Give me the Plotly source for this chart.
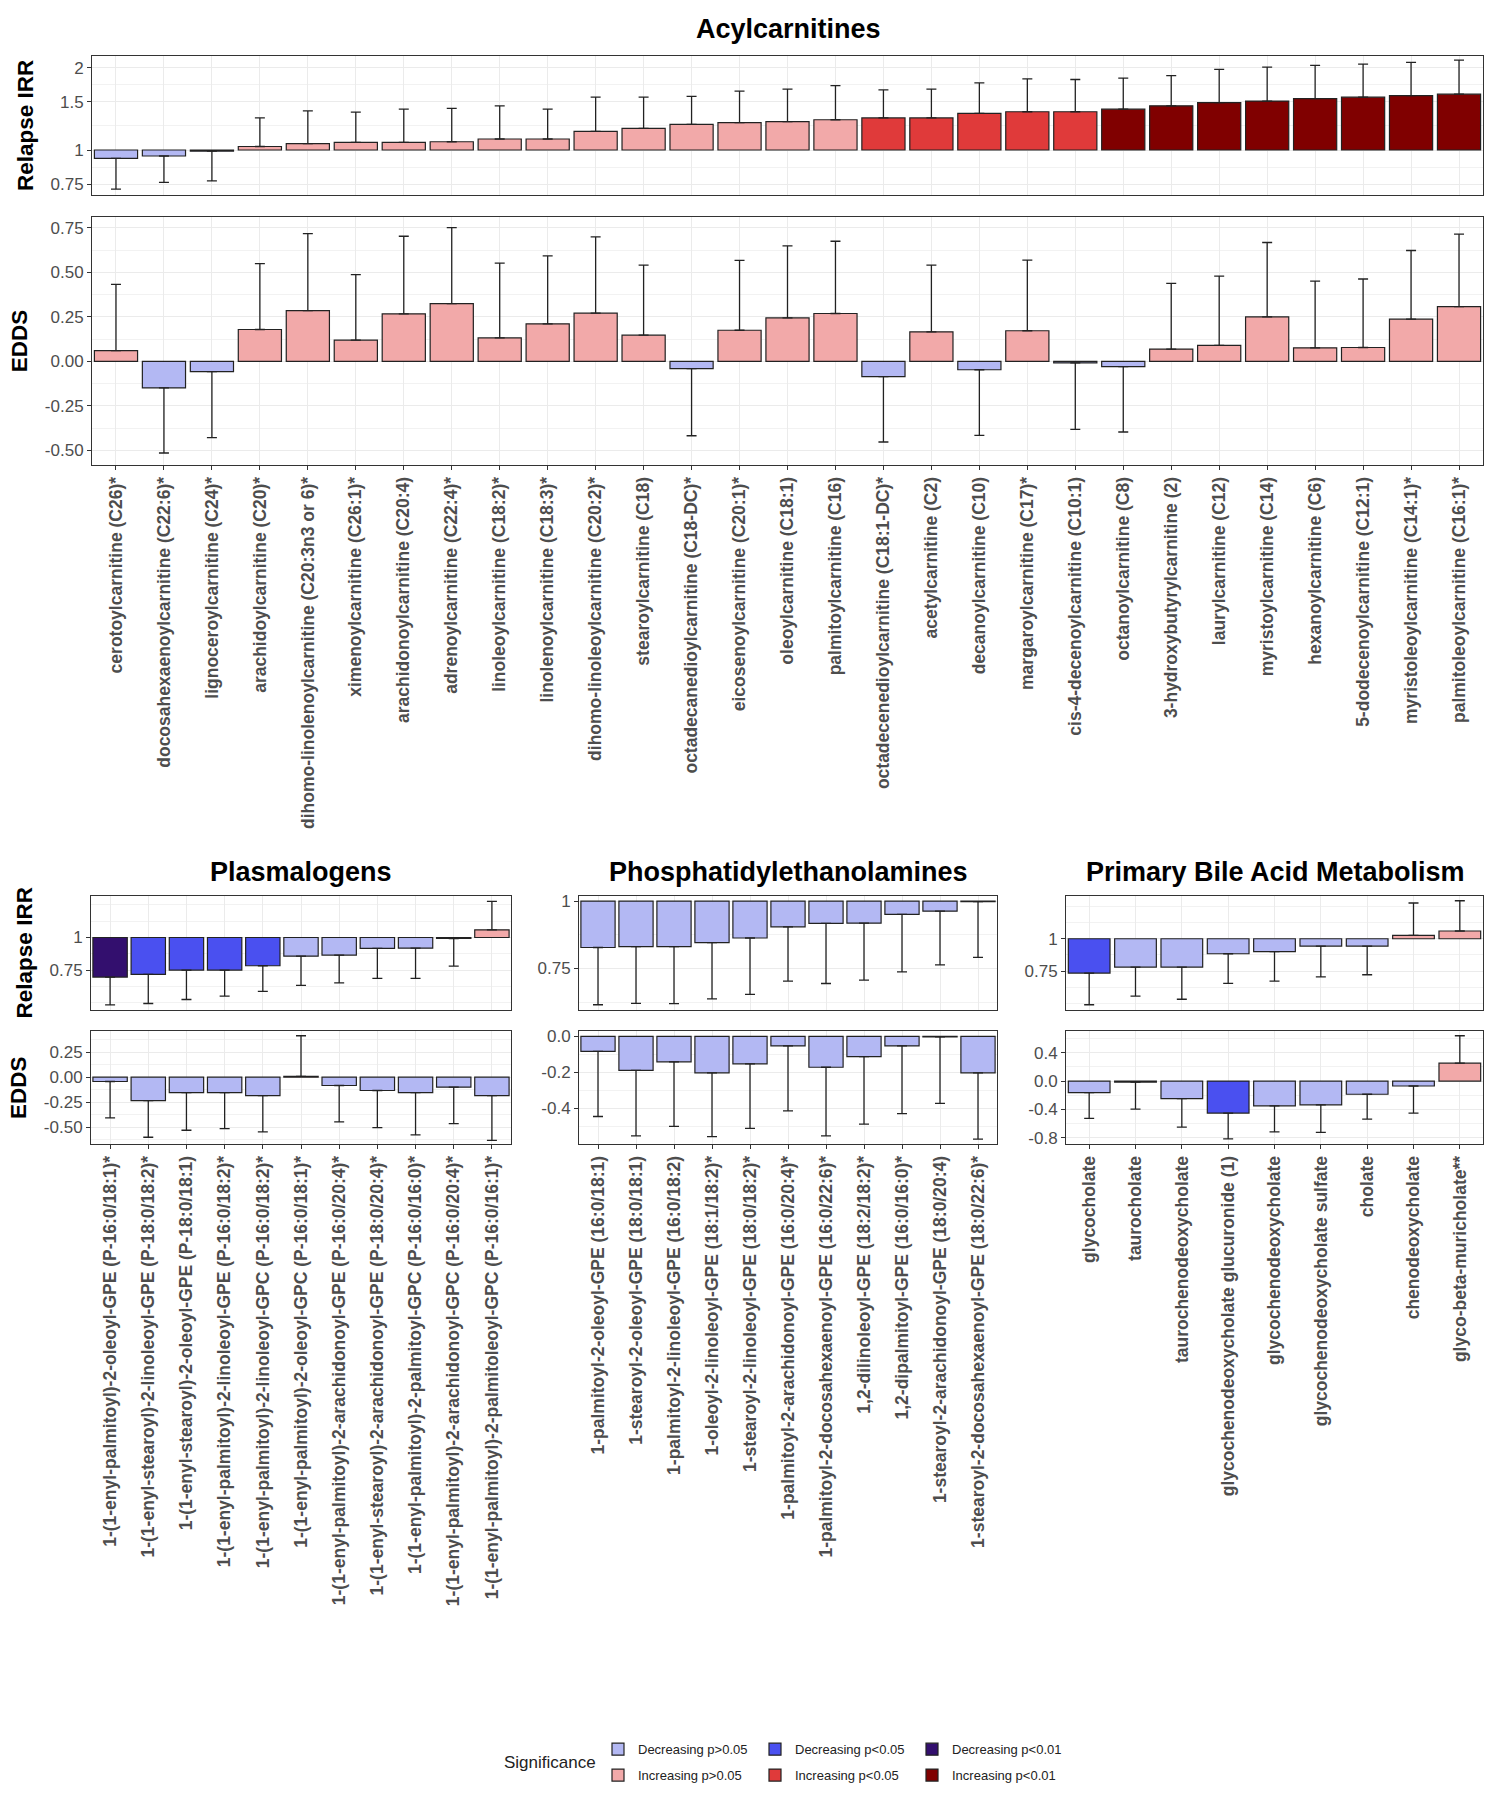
import numpy as np
import plotly.graph_objects as go

FONT = "Liberation Sans, Arial, sans-serif"
W, H = 1486, 1800

# ---------------- data ----------------
CAT_ORDER = ["Dn", "Up", "Dn05", "Up05", "Dn01", "Up01"]
CAT_NAMES = {"Dn": "Decreasing p>0.05", "Up": "Increasing p>0.05",
             "Dn05": "Decreasing p<0.05", "Up05": "Increasing p<0.05",
             "Dn01": "Decreasing p<0.01", "Up01": "Increasing p<0.01"}
CAT_COLORS = {"Dn": "#B3B8F3", "Up": "#F2A9A9",
              "Dn05": "#4A50F0", "Up05": "#E03A3A",
              "Dn01": "#330F6E", "Up01": "#800000"}

acyl_labels = [
    "cerotoylcarnitine (C26)*", "docosahexaenoylcarnitine (C22:6)*", "lignoceroylcarnitine (C24)*",
    "arachidoylcarnitine (C20)*", "dihomo-linolenoylcarnitine (C20:3n3 or 6)*", "ximenoylcarnitine (C26:1)*",
    "arachidonoylcarnitine (C20:4)", "adrenoylcarnitine (C22:4)*", "linoleoylcarnitine (C18:2)*",
    "linolenoylcarnitine (C18:3)*", "dihomo-linoleoylcarnitine (C20:2)*", "stearoylcarnitine (C18)",
    "octadecanedioylcarnitine (C18-DC)*", "eicosenoylcarnitine (C20:1)*", "oleoylcarnitine (C18:1)",
    "palmitoylcarnitine (C16)", "octadecenedioylcarnitine (C18:1-DC)*", "acetylcarnitine (C2)",
    "decanoylcarnitine (C10)", "margaroylcarnitine (C17)*", "cis-4-decenoylcarnitine (C10:1)",
    "octanoylcarnitine (C8)", "3-hydroxybutyrylcarnitine (2)", "laurylcarnitine (C12)",
    "myristoylcarnitine (C14)", "hexanoylcarnitine (C6)", "5-dodecenoylcarnitine (C12:1)",
    "myristoleoylcarnitine (C14:1)*", "palmitoleoylcarnitine (C16:1)*"]
acyl_irr = [0.932, 0.951, 0.99, 1.03, 1.055, 1.066, 1.066, 1.072, 1.097, 1.097, 1.17, 1.20, 1.24, 1.26,
            1.27, 1.29, 1.31, 1.31, 1.36, 1.38, 1.38, 1.41, 1.45, 1.49, 1.51, 1.54, 1.56, 1.58, 1.60]
acyl_irr_ci = [0.719, 0.762, 0.771, 1.31, 1.39, 1.375, 1.41, 1.42, 1.45, 1.41, 1.56, 1.56, 1.57, 1.64,
               1.67, 1.72, 1.66, 1.67, 1.76, 1.82, 1.81, 1.83, 1.87, 1.97, 2.01, 2.04, 2.06, 2.09, 2.13]
acyl_irr_sig = ["Dn"] * 3 + ["Up"] * 13 + ["Up05"] * 5 + ["Up01"] * 8
acyl_edds = [0.060, -0.149, -0.058, 0.179, 0.285, 0.119, 0.267, 0.325, 0.132, 0.211, 0.271, 0.147, -0.041,
             0.175, 0.244, 0.269, -0.086, 0.166, -0.047, 0.172, -0.009, -0.030, 0.069, 0.090, 0.250,
             0.076, 0.078, 0.237, 0.308]
acyl_edds_ci = [0.433, -0.515, -0.429, 0.549, 0.718, 0.487, 0.703, 0.752, 0.552, 0.593, 0.700, 0.541,
                -0.418, 0.567, 0.649, 0.675, -0.453, 0.541, -0.416, 0.569, -0.382, -0.397, 0.438,
                0.479, 0.668, 0.451, 0.463, 0.623, 0.715]
acyl_edds_sig = ["Up", "Dn", "Dn", "Up", "Up", "Up", "Up", "Up", "Up", "Up", "Up", "Up", "Dn", "Up",
                 "Up", "Up", "Dn", "Up", "Dn", "Up", "Dn", "Dn", "Up", "Up", "Up", "Up", "Up", "Up", "Up"]

plas_labels = [
    "1-(1-enyl-palmitoyl)-2-oleoyl-GPE (P-16:0/18:1)*", "1-(1-enyl-stearoyl)-2-linoleoyl-GPE (P-18:0/18:2)*",
    "1-(1-enyl-stearoyl)-2-oleoyl-GPE (P-18:0/18:1)", "1-(1-enyl-palmitoyl)-2-linoleoyl-GPE (P-16:0/18:2)*",
    "1-(1-enyl-palmitoyl)-2-linoleoyl-GPC (P-16:0/18:2)*", "1-(1-enyl-palmitoyl)-2-oleoyl-GPC (P-16:0/18:1)*",
    "1-(1-enyl-palmitoyl)-2-arachidonoyl-GPE (P-16:0/20:4)*",
    "1-(1-enyl-stearoyl)-2-arachidonoyl-GPE (P-18:0/20:4)*",
    "1-(1-enyl-palmitoyl)-2-palmitoyl-GPC (P-16:0/16:0)*",
    "1-(1-enyl-palmitoyl)-2-arachidonoyl-GPC (P-16:0/20:4)*",
    "1-(1-enyl-palmitoyl)-2-palmitoleoyl-GPC (P-16:0/16:1)*"]
plas_irr = [0.705, 0.722, 0.75, 0.75, 0.779, 0.848, 0.856, 0.908, 0.91, 0.991, 1.07]
plas_irr_ci = [0.551, 0.558, 0.578, 0.595, 0.621, 0.655, 0.669, 0.697, 0.697, 0.777, 1.377]
plas_irr_sig = ["Dn01", "Dn05", "Dn05", "Dn05", "Dn05", "Dn", "Dn", "Dn", "Dn", "Dn", "Up"]
plas_edds = [-0.043, -0.233, -0.153, -0.153, -0.183, 0.007, -0.083, -0.133, -0.153, -0.100, -0.183]
plas_edds_ci = [-0.405, -0.598, -0.528, -0.512, -0.545, 0.412, -0.445, -0.502, -0.575, -0.462, -0.628]
plas_edds_sig = ["Dn", "Dn", "Dn", "Dn", "Dn", "Up", "Dn", "Dn", "Dn", "Dn", "Dn"]

pe_labels = [
    "1-palmitoyl-2-oleoyl-GPE (16:0/18:1)", "1-stearoyl-2-oleoyl-GPE (18:0/18:1)",
    "1-palmitoyl-2-linoleoyl-GPE (16:0/18:2)", "1-oleoyl-2-linoleoyl-GPE (18:1/18:2)*",
    "1-stearoyl-2-linoleoyl-GPE (18:0/18:2)*", "1-palmitoyl-2-arachidonoyl-GPE (16:0/20:4)*",
    "1-palmitoyl-2-docosahexaenoyl-GPE (16:0/22:6)*", "1,2-dilinoleoyl-GPE (18:2/18:2)*",
    "1,2-dipalmitoyl-GPE (16:0/16:0)*", "1-stearoyl-2-arachidonoyl-GPE (18:0/20:4)",
    "1-stearoyl-2-docosahexaenoyl-GPE (18:0/22:6)*"]
pe_irr = [0.820, 0.823, 0.823, 0.837, 0.854, 0.896, 0.909, 0.910, 0.945, 0.958, 0.998]
pe_irr_ci = [0.642, 0.646, 0.645, 0.658, 0.671, 0.710, 0.703, 0.713, 0.739, 0.761, 0.786]
pe_irr_sig = ["Dn"] * 11
pe_edds = [-0.083, -0.189, -0.141, -0.202, -0.152, -0.053, -0.171, -0.112, -0.053, -0.003, -0.202]
pe_edds_ci = [-0.444, -0.552, -0.499, -0.556, -0.510, -0.413, -0.552, -0.486, -0.428, -0.371, -0.569]
pe_edds_sig = ["Dn"] * 11

bile_labels = ["glycocholate", "taurocholate", "taurochenodeoxycholate",
               "glycochenodeoxycholate glucuronide (1)", "glycochenodeoxycholate",
               "glycochenodeoxycholate sulfate", "cholate", "chenodeoxycholate", "glyco-beta-muricholate**"]
bile_irr = [0.737, 0.777, 0.777, 0.875, 0.891, 0.937, 0.937, 1.03, 1.071]
bile_irr_ci = [0.556, 0.600, 0.584, 0.672, 0.686, 0.713, 0.726, 1.374, 1.402]
bile_irr_sig = ["Dn05", "Dn", "Dn", "Dn", "Dn", "Dn", "Dn", "Up", "Up"]
bile_edds = [-0.163, -0.014, -0.247, -0.451, -0.349, -0.335, -0.186, -0.070, 0.251]
bile_edds_ci = [-0.526, -0.395, -0.647, -0.814, -0.716, -0.721, -0.535, -0.451, 0.637]
bile_edds_sig = ["Dn", "Dn", "Dn", "Dn05", "Dn", "Dn", "Dn", "Dn", "Up"]

# ---------------- layout helpers ----------------
def px_x(a, b):
    return [a / W, b / W]

def px_y(top, bottom):
    return [1 - bottom / H, 1 - top / H]

fig = go.Figure()
legend_done = set()
LEGEND_ID = {"Dn": "legend", "Up": "legend2", "Dn05": "legend3",
             "Up05": "legend4", "Dn01": "legend5", "Up01": "legend6"}


def add_panel(n, labels, vals, ci, sig, ref):
    xa = "x" if n == 1 else f"x{n}"
    ya = "y" if n == 1 else f"y{n}"
    for cat in CAT_ORDER:
        idx = [i for i, s in enumerate(sig) if s == cat]
        if not idx:
            continue
        xs = [labels[i] for i in idx]
        v = [vals[i] for i in idx]
        e = [ci[i] for i in idx]
        plus = [max(ei - vi, 0) if vi >= ref else 0 for vi, ei in zip(v, e)]
        minus = [max(vi - ei, 0) if vi < ref else 0 for vi, ei in zip(v, e)]
        show = cat not in legend_done
        legend_done.add(cat)
        fig.add_trace(go.Bar(
            x=xs, y=[vi - ref for vi in v], base=ref, width=0.9,
            marker=dict(color=CAT_COLORS[cat], line=dict(color="#222222", width=1.2)),
            error_y=dict(type="data", symmetric=False, array=plus, arrayminus=minus,
                         color="#222222", thickness=1.3, width=5),
            name=CAT_NAMES[cat], legendgroup=cat, showlegend=show,
            legend=LEGEND_ID[cat], xaxis=xa, yaxis=ya))


def log_minor(majors, lo, hi):
    b = np.log(np.array(majors, dtype=float))
    bd = b[1] - b[0]
    if np.log(lo) < b[0]:
        b = np.concatenate([[b[0] - bd], b])
    if np.log(hi) > b[-1]:
        b = np.concatenate([b, [b[-1] + bd]])
    mids = (b[:-1] + b[1:]) / 2
    allv = np.exp(np.concatenate([mids, b]))
    allv = [float(v) for v in allv if lo < v < hi and not any(abs(v - m) < 1e-9 for m in majors)]
    return allv


def lin_minor(majors, lo, hi):
    b = np.array(majors, dtype=float)
    bd = b[1] - b[0]
    b = np.concatenate([[b[0] - bd], b, [b[-1] + bd]])
    mids = (b[:-1] + b[1:]) / 2
    return [float(v) for v in mids if lo < v < hi]


GRID = "#EBEBEB"
AXCOL = "#333333"
TICKFONT = dict(family=FONT, size=17, color="#4D4D4D")
XTICKFONT = dict(family=FONT, size=17.5, color="#4D4D4D", weight="bold")


def style_axes(n, xdom, ydom, labels, ylog, yrange, ytickvals, yticktext, show_xlabels, ytitle):
    xk = "xaxis" if n == 1 else f"xaxis{n}"
    yk = "yaxis" if n == 1 else f"yaxis{n}"
    ya = "y" if n == 1 else f"y{n}"
    xa = "x" if n == 1 else f"x{n}"
    xd = dict(domain=xdom, anchor=ya, type="category", categoryorder="array", categoryarray=labels,
              range=[-0.5, len(labels) - 0.5], showgrid=True, gridcolor=GRID, gridwidth=1.2,
              showline=True, mirror=True, linecolor=AXCOL, linewidth=1, zeroline=False,
              fixedrange=True)
    if show_xlabels:
        xd.update(showticklabels=True, tickangle=-90, tickfont=XTICKFONT, ticks="outside",
                  ticklen=4, tickcolor=AXCOL, tickwidth=1)
    else:
        xd.update(showticklabels=False, ticks="")
    if ylog:
        rng = [float(np.log10(yrange[0])), float(np.log10(yrange[1]))]
        minor_vals = log_minor(ytickvals, yrange[0], yrange[1])
    else:
        rng = list(yrange)
        minor_vals = lin_minor(ytickvals, yrange[0], yrange[1])
    yd = dict(domain=ydom, anchor=xa, type="log" if ylog else "linear", range=rng,
              tickmode="array", tickvals=ytickvals, ticktext=yticktext, tickfont=TICKFONT,
              ticks="outside", ticklen=4, tickcolor=AXCOL, tickwidth=1,
              showgrid=True, gridcolor=GRID, gridwidth=1.2, zeroline=False,
              minor=dict(tickmode="array", tickvals=minor_vals, showgrid=True,
                         gridcolor="#F2F2F2", gridwidth=0.8, ticks=""),
              showline=True, mirror=True, linecolor=AXCOL, linewidth=1, fixedrange=True)
    if ytitle:
        yd["title"] = dict(text=ytitle, font=dict(family=FONT, size=22.5, color="black", weight="bold"),
                           standoff=10)
    fig.update_layout({xk: xd, yk: yd})


# ---------------- panels ----------------
TOP_X = px_x(92, 1483)
add_panel(1, acyl_labels, acyl_irr, acyl_irr_ci, acyl_irr_sig, 1.0)
add_panel(2, acyl_labels, acyl_edds, acyl_edds_ci, acyl_edds_sig, 0.0)
style_axes(1, TOP_X, px_y(52, 192), acyl_labels, True, (0.684, 2.21),
           [0.75, 1, 1.5, 2], ["0.75", "1", "1.5", "2"], False, "Relapse IRR")
style_axes(2, TOP_X, px_y(214, 463), acyl_labels, False, (-0.582, 0.811),
           [-0.5, -0.25, 0, 0.25, 0.5, 0.75], ["-0.50", "-0.25", "0.00", "0.25", "0.50", "0.75"],
           True, "EDDS")

BOT_IRR_Y = px_y(896, 1010)
BOT_EDDS_Y = px_y(1032, 1145)
PL_X, PE_X, BI_X = px_x(91, 511), px_x(579, 997), px_x(1066, 1483)

add_panel(3, plas_labels, plas_irr, plas_irr_ci, plas_irr_sig, 1.0)
add_panel(4, plas_labels, plas_edds, plas_edds_ci, plas_edds_sig, 0.0)
style_axes(3, PL_X, BOT_IRR_Y, plas_labels, True, (0.529, 1.443), [0.75, 1], ["0.75", "1"], False,
           "Relapse IRR")
style_axes(4, PL_X, BOT_EDDS_Y, plas_labels, False, (-0.664, 0.455), [-0.5, -0.25, 0, 0.25],
           ["-0.50", "-0.25", "0.00", "0.25"], True, "EDDS")

add_panel(5, pe_labels, pe_irr, pe_irr_ci, pe_irr_sig, 1.0)
add_panel(6, pe_labels, pe_edds, pe_edds_ci, pe_edds_sig, 0.0)
style_axes(5, PE_X, BOT_IRR_Y, pe_labels, True, (0.629, 1.022), [0.75, 1], ["0.75", "1"], False, None)
style_axes(6, PE_X, BOT_EDDS_Y, pe_labels, False, (-0.596, 0.0275), [-0.4, -0.2, 0],
           ["-0.4", "-0.2", "0.0"], True, None)

add_panel(7, bile_labels, bile_irr, bile_irr_ci, bile_irr_sig, 1.0)
add_panel(8, bile_labels, bile_edds, bile_edds_ci, bile_edds_sig, 0.0)
style_axes(7, BI_X, BOT_IRR_Y, bile_labels, True, (0.533, 1.462), [0.75, 1], ["0.75", "1"], False, None)
style_axes(8, BI_X, BOT_EDDS_Y, bile_labels, False, (-0.884, 0.698), [-0.8, -0.4, 0, 0.4],
           ["-0.8", "-0.4", "0.0", "0.4"], True, None)

# ---------------- titles ----------------
TITLE_FONT = dict(family=FONT, size=27, color="black", weight="bold")
titles = [("Acylcarnitines", 788, 25), ("Plasmalogens", 301, 872),
          ("Phosphatidylethanolamines", 788, 872), ("Primary Bile Acid Metabolism", 1275, 872)]
for t, x, y in titles:
    fig.add_annotation(text=t, x=x / W, y=1 - y / H, xref="paper", yref="paper",
                       showarrow=False, font=TITLE_FONT, xanchor="center", yanchor="middle")

fig.add_annotation(text="Significance", x=598 / W, y=1 - 1766 / H, xref="paper", yref="paper",
                   showarrow=False, xanchor="right", yanchor="middle",
                   font=dict(family=FONT, size=17, color="#222222"))

# ---------------- legends (2 rows x 3 cols) ----------------
LEG_FONT = dict(family=FONT, size=13, color="#222222")
leg_pos = {"legend": (598, 1753), "legend2": (598, 1779), "legend3": (755, 1753),
           "legend4": (755, 1779), "legend5": (912, 1753), "legend6": (912, 1779)}
leg_layout = {}
for k, (lx, ly) in leg_pos.items():
    leg_layout[k] = dict(x=lx / W, y=1 - ly / H, xanchor="left", yanchor="middle",
                         orientation="h", font=LEG_FONT, bgcolor="rgba(0,0,0,0)",
                         borderwidth=0, itemclick=False, itemdoubleclick=False)
fig.update_layout(**leg_layout)

fig.update_layout(width=W, height=H, autosize=False, margin=dict(l=0, r=0, t=0, b=0),
                  paper_bgcolor="white", plot_bgcolor="white", barmode="overlay",
                  font=dict(family=FONT), showlegend=True)

fig.write_html("out.html", config={"displayModeBar": False},
               post_script="document.body.style.margin='0';document.body.style.overflow='hidden';")
